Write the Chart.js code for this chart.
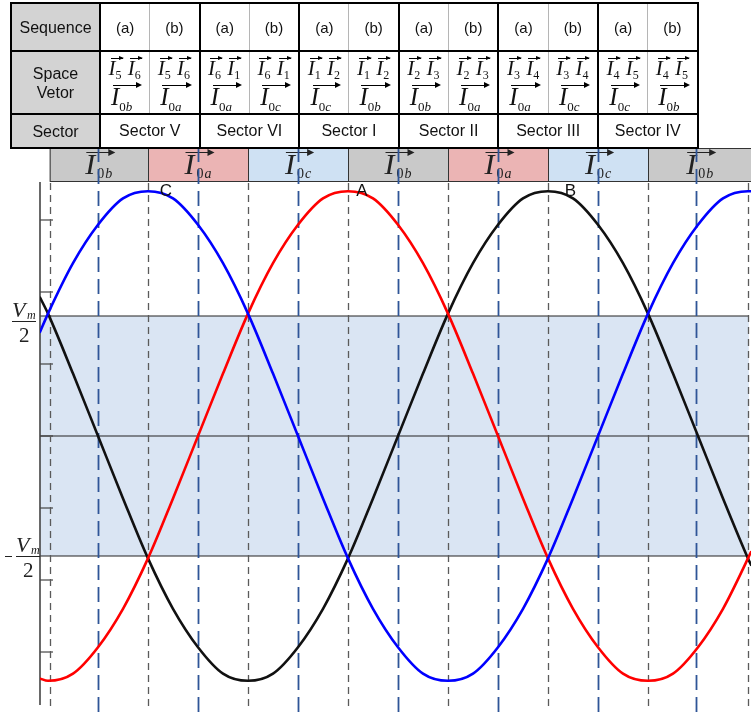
<!DOCTYPE html>
<html>
<head>
<meta charset="utf-8">
<script src="https://cdn.jsdelivr.net/npm/chart.js@4.4.0/dist/chart.umd.min.js"></script>
<style>
  body { margin:0; background:#fff; width:751px; height:719px; overflow:hidden; position:relative; font-family:"Liberation Sans", Arial, sans-serif; }
  #chart { position:absolute; left:0; top:0; }
  #tbl { position:absolute; left:10px; top:2px; border-collapse:collapse; table-layout:fixed; width:687px; }
  #tbl td { padding:0; text-align:center; color:#111; border:2px solid #000; font-size:15px; background:#fff; }
  #tbl td.head { background:#d3d3d3; font-size:16px; line-height:19px; }
  #tbl td.a { border-right:1px solid #b5b5b5; }
  #tbl td.b { border-left:1px solid #b5b5b5; }
  #tbl tr.r1 td { height:46px; }
  #tbl tr.r2 td { height:61px; }
  #tbl tr.r3 td { height:32px; font-size:16px; }
  #tbl td.vc { font-family:"Liberation Serif", serif; font-size:21px; }
  .vc .l1 { line-height:26px; height:27px; margin-top:2px; white-space:nowrap; letter-spacing:0; }
  .vc .l2 { line-height:30px; height:30px; }
  .v { position:relative; display:inline-block; font-style:italic; padding-right:1px; }
  .v::before { content:''; position:absolute; left:2px; right:0; top:3px; border-top:1px solid #000; }
  .v::after { content:''; position:absolute; right:-1px; top:1px; border-left:5px solid #000; border-top:2.5px solid transparent; border-bottom:2.5px solid transparent; }
  .v sub { font-style:normal; font-size:12px; vertical-align:-4px; line-height:0; }
  .v.long { padding-right:7px; font-size:25px; }
  .v.long::after { right:-3px; top:0; border-left:6px solid #000; border-top:3.5px solid transparent; border-bottom:3.5px solid transparent; }
  .v.long::before { right:-1px; }
  .v.long sub { font-size:13px; vertical-align:-6px; }
</style>
</head>
<body>
<canvas id="chart" width="751" height="719"></canvas>
<table id="tbl"></table>
<script>
// --- DADOS ---
const theta = [-65, -60, -45, -30, -15, 0, 15, 30, 45, 60, 75, 90, 105, 120, 135, 150, 165, 180, 195, 210, 225, 240, 255, 270, 285, 300, 315, 330, 345, 360, 362];
const phaseC = [0.43, 0.51, 0.72, 0.88, 0.99, 1.02, 0.99, 0.88, 0.72, 0.51, 0.26, 0, -0.26, -0.51, -0.72, -0.88, -0.99, -1.02, -0.99, -0.88, -0.72, -0.51, -0.26, 0, 0.26, 0.51, 0.72, 0.88, 0.99, 1.02, 1.02];
const phaseA = [-1.01, -1.02, -0.99, -0.88, -0.72, -0.51, -0.26, 0, 0.26, 0.51, 0.72, 0.88, 0.99, 1.02, 0.99, 0.88, 0.72, 0.51, 0.26, 0, -0.26, -0.51, -0.72, -0.88, -0.99, -1.02, -0.99, -0.88, -0.72, -0.51, -0.48];
const phaseB = [0.58, 0.51, 0.26, 0, -0.26, -0.51, -0.72, -0.88, -0.99, -1.02, -0.99, -0.88, -0.72, -0.51, -0.26, 0, 0.26, 0.51, 0.72, 0.88, 0.99, 1.02, 0.99, 0.88, 0.72, 0.51, 0.26, 0, -0.26, -0.51, -0.54];

const grayLines = [-59, 0, 60, 120, 180, 240, 300, 360];
const sectorLines = [-30, 30, 90, 150, 210, 270, 329];
const yTicks = [0.9, 0.6, 0.3, 0, -0.3, -0.6, -0.9];
const halfVm = 0.5;

const stripEdges = [-59, 0, 60, 120, 180, 240, 300, 362];
const stripSubs = ['b', 'a', 'c', 'b', 'a', 'c', 'b'];
const stripKinds = ['g', 'r', 'b', 'g', 'r', 'b', 'g'];

const peakNames = ['C', 'A', 'B'];
const peakTheta = [7, 125, 250];

const sequence = ['(a)', '(b)', '(a)', '(b)', '(a)', '(b)', '(a)', '(b)', '(a)', '(b)', '(a)', '(b)'];
const vecPairs = [['5','6'], ['5','6'], ['6','1'], ['6','1'], ['1','2'], ['1','2'], ['2','3'], ['2','3'], ['3','4'], ['3','4'], ['4','5'], ['4','5']];
const zeroVecs = ['b', 'a', 'a', 'c', 'c', 'b', 'b', 'a', 'a', 'c', 'c', 'b'];
const sectors = ['Sector V', 'Sector VI', 'Sector I', 'Sector II', 'Sector III', 'Sector IV'];

// --- TABELA ---
function buildTable() {
    const t = document.getElementById('tbl');
    let html = '<colgroup><col style="width:89px">';
    for (let i = 0; i < 12; i++) html += '<col style="width:49.8px">';
    html += '</colgroup>';
    html += '<tr class="r1"><td class="head">Sequence</td>';
    sequence.forEach((s, i) => html += '<td class="' + (i % 2 ? 'b' : 'a') + '">' + s + '</td>');
    html += '</tr><tr class="r2"><td class="head">Space<br>Vetor</td>';
    vecPairs.forEach((p, i) => {
        html += '<td class="vc ' + (i % 2 ? 'b' : 'a') + '">' +
            '<div class="l1"><span class="v">I<sub>' + p[0] + '</sub></span> <span class="v">I<sub>' + p[1] + '</sub></span></div>' +
            '<div class="l2"><span class="v long">I<sub>0<i>' + zeroVecs[i] + '</i></sub></span></div></td>';
    });
    html += '</tr><tr class="r3"><td class="head">Sector</td>';
    sectors.forEach(s => html += '<td colspan="2">' + s + '</td>');
    html += '</tr>';
    t.innerHTML = html;
}
buildTable();

// --- DESENHO EXTRA ---
function drawVec(ctx, cx, top, sub) {
    ctx.font = 'italic 30px "Liberation Serif"';
    const wI = ctx.measureText('I').width;
    ctx.font = '14px "Liberation Serif"';
    const w0 = ctx.measureText('0').width;
    ctx.font = 'italic 14px "Liberation Serif"';
    const wL = ctx.measureText(sub).width;
    const w = wI + 2 + w0 + 1 + wL;
    const x0 = cx - w / 2;
    ctx.fillStyle = '#222';
    ctx.textAlign = 'left';
    ctx.textBaseline = 'alphabetic';
    ctx.font = 'italic 30px "Liberation Serif"';
    ctx.fillText('I', x0, top + 25);
    ctx.font = '14px "Liberation Serif"';
    ctx.fillText('0', x0 + wI + 2, top + 29);
    ctx.font = 'italic 14px "Liberation Serif"';
    ctx.fillText(sub, x0 + wI + 3 + w0, top + 29);
    const ax = x0 + w + 3;
    ctx.strokeStyle = '#222';
    ctx.lineWidth = 1;
    ctx.setLineDash([]);
    ctx.beginPath();
    ctx.moveTo(x0 + 1, top + 3.5);
    ctx.lineTo(ax - 4, top + 3.5);
    ctx.stroke();
    ctx.beginPath();
    ctx.moveTo(ax, top + 3.5);
    ctx.lineTo(ax - 7, top);
    ctx.lineTo(ax - 7, top + 7);
    ctx.closePath();
    ctx.fill();
}

function drawFrac(ctx, x, lineY, minus) {
    ctx.fillStyle = '#222';
    ctx.strokeStyle = '#222';
    ctx.lineWidth = 1;
    ctx.setLineDash([]);
    ctx.textAlign = 'left';
    ctx.font = 'italic 22px "Liberation Serif"';
    ctx.fillText('V', x, lineY - 4);
    ctx.font = 'italic 12px "Liberation Serif"';
    ctx.fillText('m', x + 15, lineY - 2);
    ctx.beginPath();
    ctx.moveTo(x, lineY + 0.5);
    ctx.lineTo(x + 24, lineY + 0.5);
    ctx.stroke();
    ctx.font = '21px "Liberation Serif"';
    ctx.fillText('2', x + 7, lineY + 21);
    if (minus) {
        ctx.beginPath();
        ctx.moveTo(x - 11, lineY + 0.5);
        ctx.lineTo(x - 4, lineY + 0.5);
        ctx.stroke();
    }
}

const decor = {
    id: 'decor',
    beforeDatasetsDraw(chart) {
        const ctx = chart.ctx;
        const xs = chart.scales.x, ys = chart.scales.y;
        const area = chart.chartArea;
        ctx.save();

        // faixa superior
        const fills = { g: '#c9c9c9', r: '#ebb4b4', b: '#cfe1f3' };
        const sTop = 148, sBot = 181;
        for (let i = 0; i < stripSubs.length; i++) {
            const x1 = xs.getPixelForValue(stripEdges[i]);
            const x2 = xs.getPixelForValue(stripEdges[i + 1]);
            ctx.fillStyle = fills[stripKinds[i]];
            ctx.fillRect(x1, sTop, x2 - x1, sBot - sTop);
            ctx.strokeStyle = '#333';
            ctx.lineWidth = 1;
            ctx.strokeRect(x1 + 0.5, sTop + 0.5, x2 - x1, sBot - sTop);
            drawVec(ctx, (x1 + x2) / 2, sTop + 1, stripSubs[i]);
        }

        // região sombreada
        const xL = area.left, xR = xs.getPixelForValue(360.5);
        const yT = ys.getPixelForValue(halfVm), yB = ys.getPixelForValue(-halfVm);
        ctx.fillStyle = '#dae5f3';
        ctx.fillRect(xL, yT, xR - xL, yB - yT);
        ctx.strokeStyle = '#222';
        ctx.lineWidth = 1.2;
        [yT, ys.getPixelForValue(0), yB].forEach(y => {
            ctx.beginPath();
            ctx.moveTo(xL, y);
            ctx.lineTo(xR, y);
            ctx.stroke();
        });

        // eixo vertical e marcas
        ctx.strokeStyle = '#444';
        ctx.lineWidth = 1.6;
        ctx.beginPath();
        ctx.moveTo(xL, area.top);
        ctx.lineTo(xL, area.bottom);
        ctx.stroke();
        ctx.lineWidth = 1.2;
        yTicks.forEach(v => {
            const y = ys.getPixelForValue(v);
            ctx.beginPath();
            ctx.moveTo(xL, y);
            ctx.lineTo(xL + 13, y);
            ctx.stroke();
        });

        // linhas tracejadas
        ctx.strokeStyle = '#5a5a5a';
        ctx.lineWidth = 1.3;
        ctx.setLineDash([7, 5]);
        grayLines.forEach(t => {
            const x = Math.round(xs.getPixelForValue(t)) + 0.5;
            ctx.beginPath();
            ctx.moveTo(x, area.top + 1);
            ctx.lineTo(x, 708);
            ctx.stroke();
        });
        ctx.strokeStyle = '#2f5597';
        ctx.lineWidth = 1.8;
        ctx.setLineDash([15, 7]);
        sectorLines.forEach(t => {
            const x = Math.round(xs.getPixelForValue(t)) + 0.5;
            ctx.beginPath();
            ctx.moveTo(x, 147);
            ctx.lineTo(x, 715);
            ctx.stroke();
        });
        ctx.restore();
    },
    afterDatasetsDraw(chart) {
        const ctx = chart.ctx;
        const xs = chart.scales.x, ys = chart.scales.y;
        ctx.save();
        ctx.fillStyle = '#111';
        ctx.font = '17px "Liberation Sans"';
        ctx.textAlign = 'left';
        ctx.textBaseline = 'alphabetic';
        peakNames.forEach((n, i) => {
            ctx.fillText(n, xs.getPixelForValue(peakTheta[i]), ys.getPixelForValue(1.0));
        });
        drawFrac(ctx, 12, Math.round(ys.getPixelForValue(halfVm)) + 5, false);
        drawFrac(ctx, 16, Math.round(ys.getPixelForValue(-halfVm)), true);
        ctx.restore();
    }
};

// --- GRÁFICO ---
function serie(vals) {
    return theta.map((t, i) => ({ x: t, y: vals[i] }));
}

const lineStyle = { borderWidth: 2.6, pointRadius: 0, cubicInterpolationMode: 'monotone', fill: false };

new Chart(document.getElementById('chart').getContext('2d'), {
    type: 'line',
    data: {
        datasets: [
            { label: 'C', data: serie(phaseC), borderColor: '#0000ff', ...lineStyle },
            { label: 'A', data: serie(phaseA), borderColor: '#ff0000', ...lineStyle },
            { label: 'B', data: serie(phaseB), borderColor: '#111111', ...lineStyle }
        ]
    },
    options: {
        responsive: false,
        animation: false,
        devicePixelRatio: 1,
        layout: { padding: { left: 40, right: 0, top: 182, bottom: 14 } },
        plugins: { legend: { display: false }, tooltip: { enabled: false } },
        scales: {
            x: { type: 'linear', min: -64.8, max: 361.8, display: false },
            y: { min: -1.1208, max: 1.0583, display: false }
        }
    },
    plugins: [decor]
});
</script>
</body>
</html>
